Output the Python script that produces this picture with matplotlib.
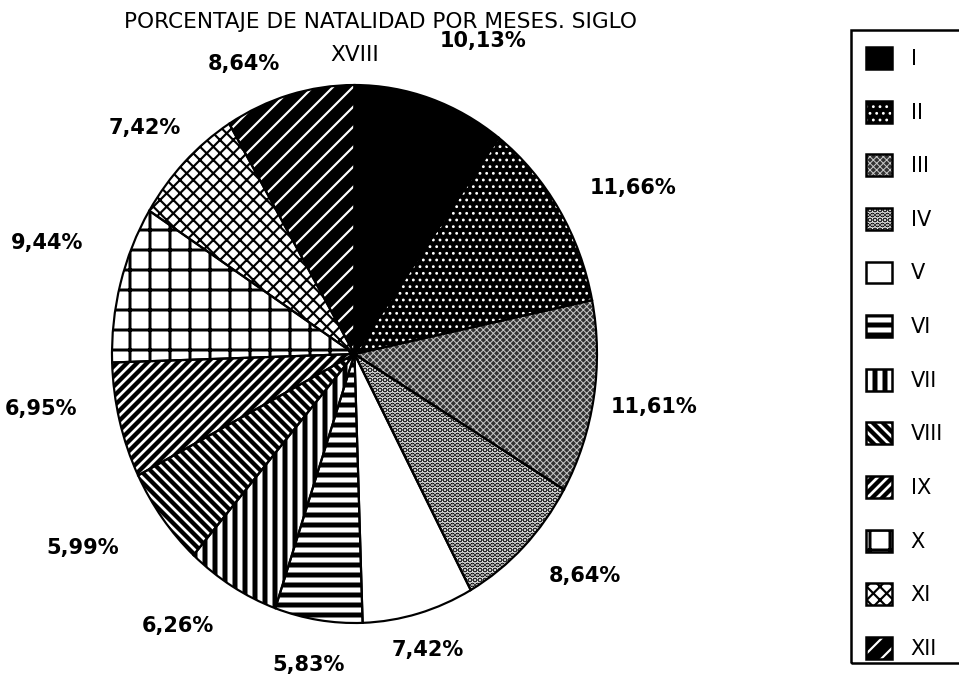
import matplotlib.pyplot as plt
from matplotlib.colors import to_rgba
from matplotlib.patches import Rectangle

plt.rcParams['font.family'] = ['DejaVu Sans']

# natalidad por meses, siglo XVIII
meses = ['I', 'II', 'III', 'IV', 'V', 'VI', 'VII', 'VIII', 'IX', 'X', 'XI', 'XII']
natalidad = [10.13, 11.66, 11.61, 8.64, 7.42, 5.83, 6.26, 5.99, 6.95, 9.44, 7.42, 8.64]
etiquetas = [('%.2f%%' % v).replace('.', ',') for v in natalidad]

# trama de cada mes: fondo, trama, color de trama, grosor de trama
fondos = ['black', 'black', '#333333', 'white', 'white', 'white',
          'white', 'white', 'white', 'white', 'white', 'black']
tramas = ['', '...', 'xxxxxx', '....', '', '--', '||', '\\\\\\\\', '////', '+', 'xxx', '//']
color_trama = ['black', 'white', '#c8c8c8', 'black', 'black', 'black',
               'black', 'black', 'black', 'black', 'black', 'white']
grosor = [1.0, 0.9, 0.6, 2.2, 1.0, 3.0, 3.0, 2.6, 2.6, 1.8, 1.3, 1.3]

# pequeños ajustes de posición de las etiquetas
ajustes = [(-0.01, 0.07), (0, 0), (-0.08, -0.01), (0, 0), (-0.15, 0.01), (0.13, -0.02),
           (0, -0.02), (-0.06, -0.02), (-0.03, 0.08), (-0.01, 0.11), (0.09, 0.02), (0, -0.03)]


def con_trama(p, hatch, color, lw):
    # la trama usa su propio color y grosor, el borde sigue siendo negro
    p.set_hatch(hatch)
    p._hatch_color = to_rgba(color)
    p._hatch_linewidth = lw
    dibujar = p.draw

    def draw(renderer):
        with plt.rc_context({'hatch.linewidth': lw}):
            dibujar(renderer)
    p.draw = draw


W, H, DPI = 959, 675, 120
fig = plt.figure(figsize=(W / DPI, H / DPI), dpi=DPI)
ax = fig.add_axes([112 / W, 52 / H, 485 / W, 538 / H])

wedges, texts = ax.pie(natalidad, labels=etiquetas, startangle=90, counterclock=False,
                       labeldistance=1.15,
                       textprops=dict(fontsize=12.5, fontweight='bold'))
for w, fc, h, hc, lw in zip(wedges, fondos, tramas, color_trama, grosor):
    w.set_facecolor(fc)
    w.set_edgecolor('black')
    w.set_linewidth(0)
    con_trama(w, h, hc, lw)

for t, (dx, dy) in zip(texts, ajustes):
    x, y = t.get_position()
    t.set_position((x + dx, y + dy))

# contorno negro de los sectores
ax.pie(natalidad, startangle=90, counterclock=False,
       wedgeprops=dict(facecolor='none', edgecolor='black', linewidth=1.3))
ax.set_aspect('auto')
ax.set_xlim(-1, 1)
ax.set_ylim(-1, 1)

fig.text(380 / W, 1 - 22 / H, 'PORCENTAJE DE NATALIDAD POR MESES. SIGLO',
         ha='center', va='center', fontsize=13)
fig.text(355 / W, 1 - 55 / H, 'XVIII', ha='center', va='center', fontsize=13)

leg = fig.legend(wedges, meses, loc='upper left', bbox_to_anchor=(866 / W, 1 - 47 / H),
                 frameon=False, borderpad=0, borderaxespad=0, fontsize=12.5,
                 handlelength=1.24, handleheight=1.24, handletextpad=0.9, labelspacing=1.52)
for p, h, hc, lw in zip(leg.legend_handles, tramas, color_trama, grosor):
    p.set_edgecolor('black')
    p.set_linewidth(1.5)
    con_trama(p, h, hc, lw)

fig.add_artist(Rectangle((851 / W, 1 - 663 / H), 130 / W, 633 / H, transform=fig.transFigure,
                         fill=False, edgecolor='black', linewidth=1.5, clip_on=False))

fig.savefig('out.png', dpi=DPI, facecolor='white')
